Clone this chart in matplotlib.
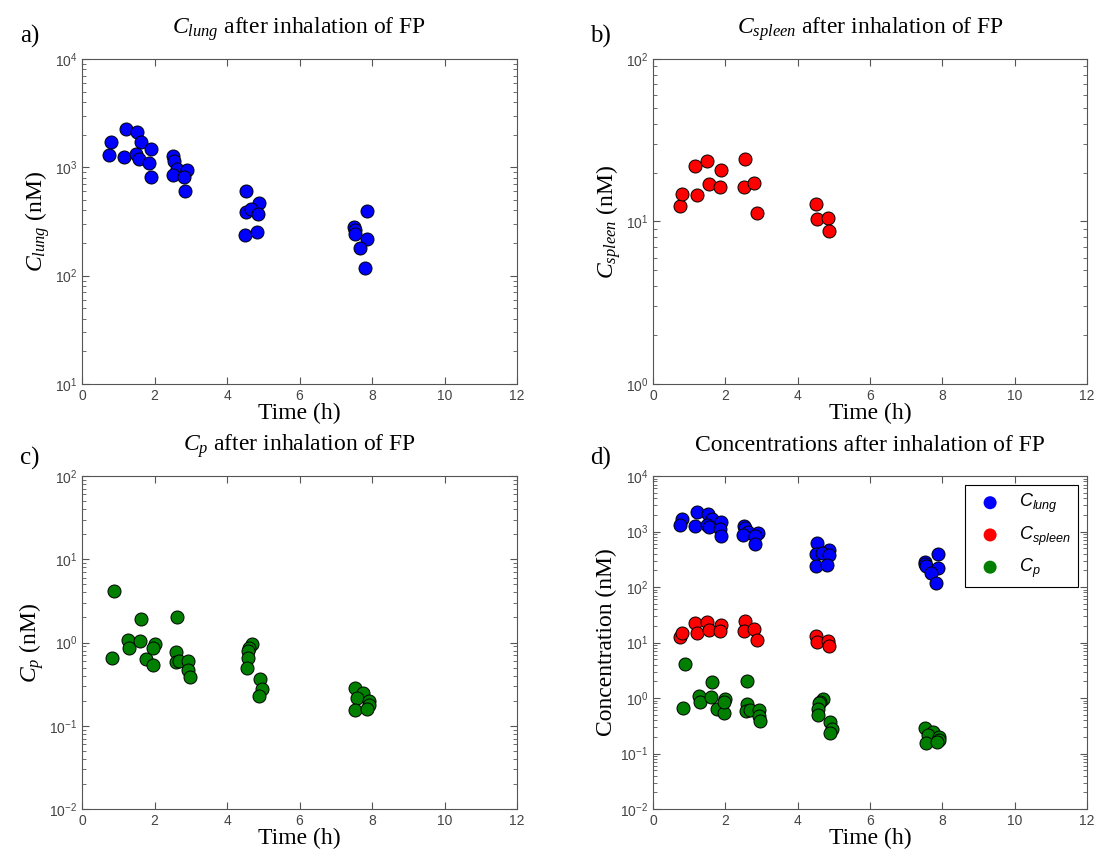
import matplotlib
matplotlib.use("Agg")
import matplotlib.pyplot as plt

# ---- data (time in h, concentrations in nM) ----
t_lung = [0.80, 0.75, 1.22, 1.17, 1.53, 1.64, 1.49, 1.56, 1.89, 1.86, 1.89,
          2.51, 2.54, 2.62, 2.50, 2.90, 2.81, 2.83,
          4.53, 4.87, 4.52, 4.66, 4.86, 4.50, 4.82,
          7.87, 7.51, 7.53, 7.54, 7.87, 7.68, 7.82]
c_lung = [1700, 1300, 2240, 1240, 2100, 1700, 1320, 1200, 1490, 1100, 820,
          1270, 1150, 960, 850, 940, 820, 600,
          610, 470, 390, 410, 370, 237, 254,
          397, 283, 264, 242, 218, 180, 117]

t_spleen = [0.75, 0.81, 1.17, 1.22, 1.50, 1.55, 1.88, 1.85, 2.53, 2.51, 2.80, 2.88,
            4.51, 4.53, 4.85, 4.87]
c_spleen = [12.5, 14.7, 22.1, 14.6, 23.7, 16.9, 20.6, 16.4, 24.2, 16.4, 17.3, 11.3,
            12.9, 10.4, 10.5, 8.8]

t_p = [0.88, 0.84, 1.62, 1.28, 1.30, 1.61, 1.76, 1.95, 2.00, 1.97,
       2.61, 2.59, 2.58, 2.68, 2.92, 2.92, 2.97,
       4.70, 4.62, 4.59, 4.57, 4.56, 4.90, 4.96, 4.89,
       7.53, 7.75, 7.59, 7.91, 7.92, 7.54, 7.86]
c_p = [4.12, 0.66, 1.93, 1.08, 0.855, 1.05, 0.63, 0.535, 0.955, 0.85,
       2.02, 0.77, 0.58, 0.60, 0.60, 0.47, 0.39,
       0.95, 0.85, 0.80, 0.645, 0.50, 0.364, 0.275, 0.23,
       0.286, 0.245, 0.218, 0.198, 0.177, 0.155, 0.158]

# ---- style: MATLAB-like ----
plt.rcParams["font.family"] = ["Liberation Sans", "DejaVu Sans"]
plt.rcParams["mathtext.fontset"] = "custom"
plt.rcParams["mathtext.rm"] = "Liberation Serif"
plt.rcParams["mathtext.it"] = "Liberation Serif:italic"
plt.rcParams["mathtext.sf"] = "Liberation Sans:italic"
SERIF = "Liberation Serif"
GRAY = "#555555"
MS = 88
FS = 17

fig = plt.figure(figsize=(10.97, 8.58), dpi=100)
W, H = 1097, 858


def make_ax(left, top, right, bottom):
    ax = fig.add_axes([left / W, 1 - bottom / H, (right - left) / W, (bottom - top) / H])
    ax.set_yscale("log")
    ax.set_xlim(0, 12)
    ax.set_xticks(range(0, 13, 2))
    for s in ax.spines.values():
        s.set_color(GRAY)
    ax.tick_params(which="both", direction="in", top=True, right=True, colors=GRAY,
                   labelcolor="#444444", labelsize=10)
    ax.tick_params(which="major", length=5)
    ax.tick_params(which="minor", length=3)
    ax.set_xlabel("Time (h)", family=SERIF, fontsize=FS, labelpad=0)
    return ax


def dots(ax, t, c, color, label=None):
    ax.scatter(t, c, s=MS, c=color, edgecolors="black", linewidths=0.7, label=label, zorder=3)


# a) lung
ax = make_ax(82, 59, 517, 384)
dots(ax, t_lung, c_lung, "#0000ff")
ax.set_ylim(10, 1e4)
ax.set_ylabel(r"$C_{lung}$ (nM)", family=SERIF, fontsize=FS, labelpad=2)
ax.set_title(r"$C_{lung}$ after inhalation of FP", family=SERIF, fontsize=FS, pad=18)

# b) spleen
ax = make_ax(653, 59, 1087, 384)
dots(ax, t_spleen, c_spleen, "#ff0000")
ax.set_ylim(1, 100)
ax.set_ylabel(r"$C_{spleen}$ (nM)", family=SERIF, fontsize=FS, labelpad=2)
ax.set_title(r"$C_{spleen}$ after inhalation of FP", family=SERIF, fontsize=FS, pad=18)

# c) plasma
ax = make_ax(82, 476, 517, 809)
dots(ax, t_p, c_p, "#007f00")
ax.set_ylim(1e-2, 100)
ax.set_ylabel(r"$C_p$ (nM)", family=SERIF, fontsize=FS, labelpad=2)
ax.set_title(r"$C_p$ after inhalation of FP", family=SERIF, fontsize=FS, pad=18)

# d) all together
ax = make_ax(653, 476, 1087, 809)
dots(ax, t_lung, c_lung, "#0000ff", r"$\mathsf{C_{lung}}$")
dots(ax, t_spleen, c_spleen, "#ff0000", r"$\mathsf{C_{spleen}}$")
dots(ax, t_p, c_p, "#007f00", r"$\mathsf{C_p}$")
ax.set_ylim(1e-2, 1e4)
ax.set_ylabel("Concentration (nM)", family=SERIF, fontsize=FS, labelpad=2)
ax.set_title("Concentrations after inhalation of FP", family=SERIF, fontsize=FS, pad=18)
leg = ax.legend(loc="upper right", fancybox=False, edgecolor="black", framealpha=1,
                fontsize=13, borderpad=0.4, labelspacing=0.5, handletextpad=0.6,
                borderaxespad=0.5, scatterpoints=1, markerscale=1.0)
leg.get_frame().set_linewidth(0.8)
for h in leg.legend_handles:
    h.set_edgecolor("none")

for lab, x, y in [("a)", 20, 36), ("b)", 590, 36), ("c)", 20, 458), ("d)", 590, 458)]:
    fig.text(x / W, 1 - y / H, lab, family=SERIF, fontsize=FS + 1, va="center", ha="left")

fig.savefig("out.png", dpi=100, facecolor="white")
